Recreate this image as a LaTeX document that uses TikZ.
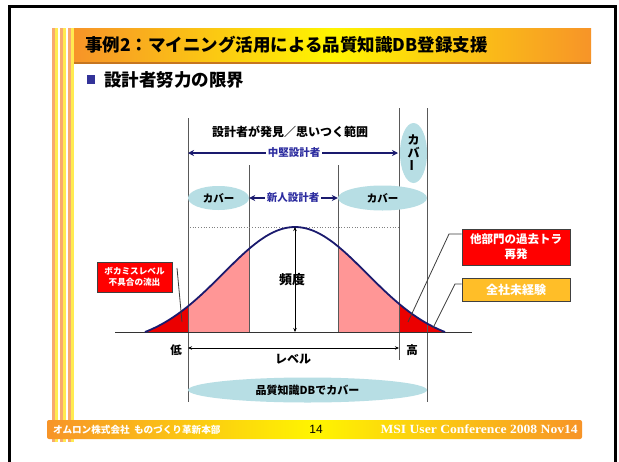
\documentclass[tikz,border=0pt]{standalone}
\usepackage{fontspec}
\newfontfamily\jp{Noto Sans CJK JP}
\newfontfamily\ser{Liberation Serif}
\newfontfamily\lsans{Liberation Sans}
\usetikzlibrary{arrows.meta,shapes.geometric}
\definecolor{navy}{RGB}{26,26,110}
\definecolor{lbl}{RGB}{45,45,160}
\definecolor{cov}{RGB}{183,222,228}
\definecolor{pinkc}{RGB}{255,150,150}
\definecolor{tailred}{RGB}{235,0,0}
\definecolor{boxred}{RGB}{255,0,0}
\definecolor{boxor}{RGB}{255,190,40}
\definecolor{ttlor}{RGB}{247,148,40}
\definecolor{ttlyel}{RGB}{255,245,0}
\definecolor{stor}{RGB}{248,170,110}
\definecolor{styel}{RGB}{255,235,80}
\definecolor{bul}{RGB}{51,51,153}
\definecolor{lead}{RGB}{60,60,60}
\begin{document}
\begin{tikzpicture}[x=1pt,y=-1pt,
  declare function={h(\x)=118.5*(exp(-((\x-295)/72)^2/2)-0.1142);},
  jpb/.style={font={\jp\bfseries\fontsize{#1}{#1}\selectfont},inner sep=0pt},
  cover/.style={ellipse,fill=cov,draw=none,inner sep=0pt,font={\jp\bfseries\fontsize{10.5}{10.5}\selectfont}},
  vline/.style={draw=black!65,line width=0.8pt},
  bigarrow/.style={draw=navy,line width=1.8pt,{Stealth[length=6pt,width=6pt]}-{Stealth[length=6pt,width=6pt]}},
  thinarrow/.style={draw=black,line width=0.7pt,{Stealth[length=4pt,width=3.5pt]}-{Stealth[length=4pt,width=3.5pt]}},
  leader/.style={draw=lead,line width=0.8pt},
  tagbox/.style={draw=black!75,line width=1pt,inner sep=0pt,text=white,align=center}
]
\useasboundingbox (0,0) rectangle (619,461);
\fill[white] (0,0) rectangle (619,461);
% frame
\draw[line width=3pt] (9,470) -- (9,6) -- (615,6) -- (615,470);
% stripes
\foreach \a/\c in {52/stor,55/styel,60/stor,63/styel,68/stor,71/styel}{
  \fill[\c] (\a,28) rectangle ++(3,414);
}
% title bar
\shade[left color=ttlor,right color=ttlor,middle color=ttlyel] (74,28) rectangle (591,62);
\fill[ttlor!80!black] (74,62) rectangle (591,63.5);
\node[jpb=17.5,anchor=west] (title) at (85,45) {事例2：マイニング活用による品質知識DB登録支援};
% subheading
\fill[bul] (87,75) rectangle (95,84);
\node[jpb=17.5,anchor=west] (sub) at (104,80) {設計者努力の限界};
% vertical lines
\coordinate (v1t) at (188,118); \coordinate (v1b) at (188,402);
\coordinate (v2t) at (249,165); \coordinate (v2b) at (249,332);
\coordinate (v3t) at (338,165); \coordinate (v3b) at (338,332);
\coordinate (v4t) at (399,108); \coordinate (v4b) at (399,360);
\coordinate (v5t) at (427,108); \coordinate (v5b) at (427,402);
% fills under curve
\fill[tailred] (145,332) -- plot[domain=145:188,samples=30] (\x,{332-h(\x)}) -- (188,332) -- cycle;
\fill[pinkc] (188,332) -- plot[domain=188:249,samples=30] (\x,{332-h(\x)}) -- (249,332) -- cycle;
\fill[pinkc] (338,332) -- plot[domain=338:399,samples=30] (\x,{332-h(\x)}) -- (399,332) -- cycle;
\fill[tailred] (399,332) -- plot[domain=399:445,samples=30] (\x,{332-h(\x)}) -- (445,332) -- cycle;
% verticals
\foreach \n in {1,...,5}{\draw[vline] (v\n t) -- (v\n b);}
% dotted peak line
\coordinate (dl) at (190,227); \coordinate (dr) at (398,227);
\draw[black!50,dotted,line width=0.7pt] (dl) -- (dr);
% baseline
\coordinate (bl) at (115,332); \coordinate (br) at (472,332);
\draw[black!80,line width=0.9pt] (bl) -- (br);
% curve
\draw[navy,line width=1.8pt] plot[domain=145:445,samples=120] (\x,{332-h(\x)});
% frequency arrow
\coordinate (pk) at (295,227); \coordinate (pb) at (295,332);
\draw[thinarrow] (pk) -- (pb);
\node[jpb=13] (freq) at (292,280) {頻度};
% level arrow
\coordinate (la) at (188,348); \coordinate (lb) at (399,348);
\draw[thinarrow] (la) -- (lb);
\node[jpb=11.5] (low) at (176,350) {低};
\node[jpb=11.5] (high) at (412,350) {高};
\node[jpb=12] (lvl) at (293,359) {レベル};
% top texts and arrows
\node[jpb=12] (range) at (290,132) {設計者が発見／思いつく範囲};
\coordinate (m1) at (188,153); \coordinate (m2) at (398,153);
\draw[bigarrow] (m1) -- (m2);
\node[jpb=10.5,text=lbl,fill=white,inner xsep=2pt,inner ysep=1pt] (mid) at (294,153) {中堅設計者};
\node[cover,minimum width=61,minimum height=24] (cL) at (218.5,198) {カバー};
\node[cover,minimum width=89,minimum height=25] (cR) at (382.5,198) {カバー};
\node[cover,minimum width=27,minimum height=60,font={\jp\bfseries\fontsize{12}{12}\selectfont}] (cV) at (413.5,153) {\shortstack{カ\\[-1pt]バ\\[-1pt]\rotatebox{90}{ー}}};
\draw[bigarrow] (cL) -- (cR);
\node[jpb=10.5,text=lbl,fill=white,inner xsep=2pt,inner ysep=1pt] (new) at (293,198) {新人設計者};
% bottom ellipse
\node[cover,minimum width=239,minimum height=25,font={\jp\bfseries\fontsize{11}{11}\selectfont}] (db) at (307.5,390) {品質知識DBでカバー};
% tag boxes
\node[tagbox,fill=boxred,minimum width=75,minimum height=30,font={\jp\bfseries\fontsize{8.6}{10.5}\selectfont}] (bk) at (134.5,277) {ボカミスレベル\\不具合の流出};
\coordinate (bk1) at (177,268); \coordinate (bk2) at (182,322);
\draw[leader] (bk1) -- (bk2);
\node[tagbox,fill=boxred,minimum width=108,minimum height=36,font={\jp\bfseries\fontsize{11.5}{15}\selectfont}] (ot) at (516,247) {他部門の過去トラ\\再発};
\coordinate (ot1) at (449,234); \coordinate (ot2) at (408,322);
\draw[leader] (ot.west |- ot1) -- (ot1) -- (ot2);
\node[tagbox,fill=boxor,minimum width=108,minimum height=23,font={\jp\bfseries\fontsize{12}{12}\selectfont}] (zs) at (516,289.5) {全社未経験};
\coordinate (zs1) at (455,284); \coordinate (zs2) at (433,328);
\draw[leader] (zs.west |- zs1) -- (zs1) -- (zs2);
% footer
\shade[rounded corners=2pt,left color=ttlor,right color=ttlor,middle color=ttlyel] (47,420) rectangle (582,439);
\node[jpb=9.6,text=white,anchor=west] (ft1) at (53,429.5) {オムロン株式会社\ \ ものづくり革新本部};
\node[font={\lsans\fontsize{12}{12}\selectfont},inner sep=0pt] (ft2) at (316,429.5) {14};
\node[font={\ser\bfseries\fontsize{12.5}{12.5}\selectfont},xscale=1.09,text=white,inner sep=0pt,anchor=east] (ft3) at (578,429.5) {MSI User Conference 2008 Nov14};
\end{tikzpicture}
\end{document}
